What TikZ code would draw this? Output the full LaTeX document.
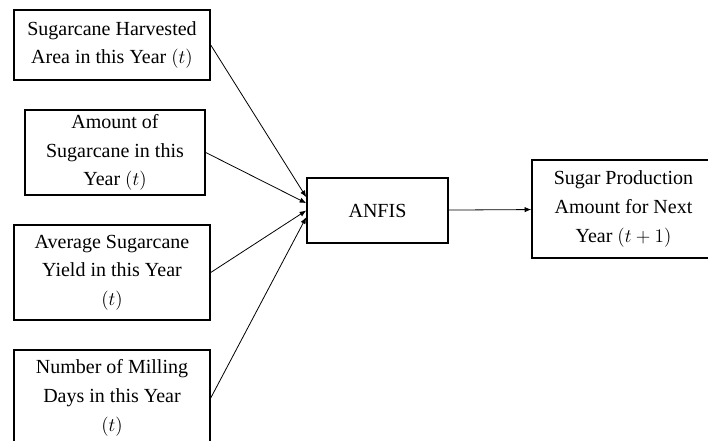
\documentclass[tikz,border=0pt]{standalone}
\usepackage{fontspec}
\setmainfont{Liberation Serif}
\usepackage{tikz}
\usetikzlibrary{arrows.meta, positioning}

\begin{document}
\begin{tikzpicture}[x=0.75pt, y=-0.75pt,
    every node/.style={font=\fontsize{15}{21.5}\selectfont},
    box/.style={draw, rectangle, line width=1.1pt, align=center, inner sep=0pt},
    link/.style={-{Latex[length=5pt, width=4pt]}, line width=0.6pt}]
    \useasboundingbox (0,0) rectangle (708,441);
    \clip (0,0) rectangle (708,441);
    % Inputs
    \node[box, minimum width=196*0.75pt, minimum height=70*0.75pt] (area) at (112,45) {Sugarcane Harvested\\Area in this Year $(t)$};
    \node[box, minimum width=180*0.75pt, minimum height=85*0.75pt] (amount) at (115,152.5) {Amount of\\Sugarcane in this\\Year $(t)$};
    \node[box, minimum width=196*0.75pt, minimum height=95*0.75pt] (yield) at (112,272.5) {Average Sugarcane\\Yield in this Year\\$(t)$};
    \node[box, minimum width=196*0.75pt, minimum height=96*0.75pt] (days) at (112,398) {Number of Milling\\Days in this Year\\$(t)$};
    % Model and output
    \node[box, minimum width=141*0.75pt, minimum height=65*0.75pt] (anfis) at (377.5,210.5) {ANFIS};
    \node[box, minimum width=183*0.75pt, minimum height=98*0.75pt] (prod) at (623.5,209) {Sugar Production\\Amount for Next\\Year $(t+1)$};

    \draw[link] (area.east) -- ([yshift=10pt]anfis.west);
    \draw[link] (amount.east) -- ([yshift=5.5pt]anfis.west);
    \draw[link] (yield.east) -- ([yshift=0pt]anfis.west);
    \draw[link] (days.east) -- ([yshift=-5pt]anfis.west);
    \draw[link] (anfis) -- (prod);
\end{tikzpicture}
\end{document}
